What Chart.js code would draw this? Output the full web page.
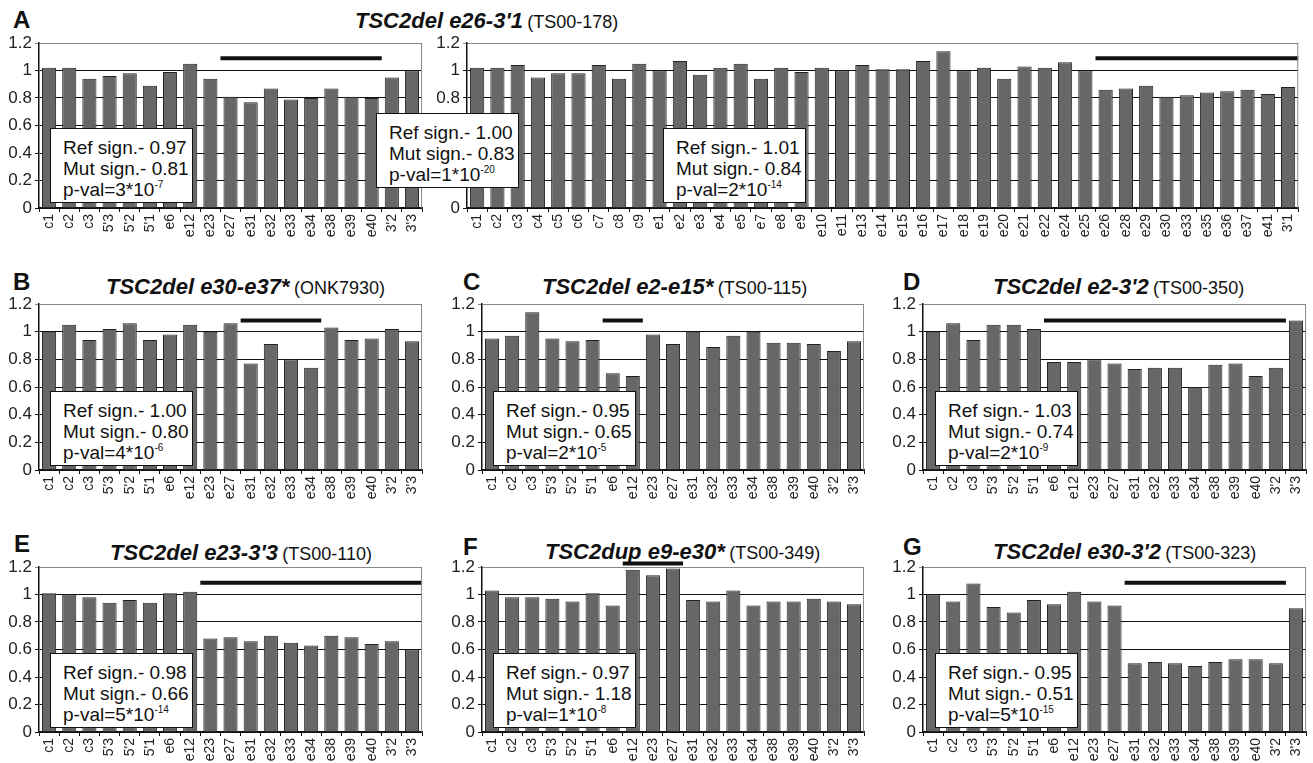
<!DOCTYPE html>
<html>
<head>
<meta charset="utf-8">
<script src="https://cdn.jsdelivr.net/npm/chart.js@4.4.0/dist/chart.umd.min.js"></script>
<style>
  html, body { margin: 0; padding: 0; background: #fff; }
  body { width: 1313px; height: 763px; position: relative; overflow: hidden;
         font-family: Arial, "Liberation Sans", sans-serif; color: #111; }
  canvas { position: absolute; }
  .lt { position: absolute; font-weight: bold; font-size: 24px; line-height: 1; transform: translateY(-50%); }
  .ttl { position: absolute; line-height: 1; white-space: nowrap; transform: translateY(-50%); }
  .ttl b { font-size: 22px; font-style: italic; }
  .ttl span { font-size: 18px; }
  .box { position: absolute; background: #fff; border: 1.5px solid #111; box-sizing: border-box;
         padding: 8px 0 0 12px; font-size: 19px; line-height: 21px; white-space: nowrap; }
  .box sup { font-size: 10px; vertical-align: 8px; line-height: 0; }
</style>
</head>
<body>

<div class="lt" style="left:13px;top:20px">A</div>
<div class="ttl" style="left:355px;top:21px"><b>TSC2del e26-3'1</b> <span>(TS00-178)</span></div>
<div class="lt" style="left:13px;top:282px">B</div>
<div class="ttl" style="left:106px;top:287px"><b>TSC2del e30-e37*</b> <span>(ONK7930)</span></div>
<div class="lt" style="left:463px;top:282px">C</div>
<div class="ttl" style="left:542px;top:287px"><b>TSC2del e2-e15*</b> <span>(TS00-115)</span></div>
<div class="lt" style="left:903px;top:282px">D</div>
<div class="ttl" style="left:993px;top:287px"><b>TSC2del e2-3'2</b> <span>(TS00-350)</span></div>
<div class="lt" style="left:14px;top:544px">E</div>
<div class="ttl" style="left:110px;top:553px"><b>TSC2del e23-3'3</b> <span>(TS00-110)</span></div>
<div class="lt" style="left:463px;top:547px">F</div>
<div class="ttl" style="left:545px;top:552px"><b>TSC2dup e9-e30*</b> <span>(TS00-349)</span></div>
<div class="lt" style="left:903px;top:547px">G</div>
<div class="ttl" style="left:993px;top:552px"><b>TSC2del e30-3'2</b> <span>(TS00-323)</span></div>

<canvas id="cA1"></canvas>
<canvas id="cA2"></canvas>
<canvas id="cB"></canvas>
<canvas id="cC"></canvas>
<canvas id="cD"></canvas>
<canvas id="cE"></canvas>
<canvas id="cF"></canvas>
<canvas id="cG"></canvas>

<script>
// probe sets shared by the small panels
const probes = ['c1', 'c2', 'c3', "5'3", "5'2", "5'1", 'e6', 'e12', 'e23', 'e27',
                'e31', 'e32', 'e33', 'e34', 'e38', 'e39', 'e40', "3'2", "3'3"];
const probesA2 = ['c1', 'c2', 'c3', 'c4', 'c5', 'c6', 'c7', 'c8', 'c9', 'e1', 'e2', 'e3', 'e4', 'e5',
                  'e7', 'e8', 'e9', 'e10', 'e11', 'e13', 'e14', 'e15', 'e16', 'e17', 'e18', 'e19',
                  'e20', 'e21', 'e22', 'e24', 'e25', 'e26', 'e28', 'e29', 'e30', 'e33', 'e35',
                  'e36', 'e37', 'e41', "3'1"];

const valsA1 = [1.02, 1.02, 0.94, 0.96, 0.98, 0.89, 0.99, 1.05, 0.94, 0.81,
                0.77, 0.87, 0.79, 0.80, 0.87, 0.81, 0.80, 0.95, 1.00];
const valsA2 = [1.02, 1.02, 1.04, 0.95, 0.98, 0.98, 1.04, 0.94, 1.05, 1.00, 1.07, 0.97, 1.02, 1.05,
                0.94, 1.02, 0.99, 1.02, 1.00, 1.04, 1.01, 1.01, 1.07, 1.14, 1.00, 1.02,
                0.94, 1.03, 1.02, 1.06, 1.00, 0.86, 0.87, 0.89, 0.81, 0.82, 0.84,
                0.85, 0.86, 0.83, 0.88];
const valsB = [1.00, 1.05, 0.94, 1.02, 1.06, 0.94, 0.98, 1.05, 1.00, 1.06,
               0.77, 0.91, 0.80, 0.74, 1.03, 0.94, 0.95, 1.02, 0.93];
const valsC = [0.95, 0.97, 1.14, 0.95, 0.93, 0.94, 0.70, 0.68, 0.98, 0.91,
               1.00, 0.89, 0.97, 1.00, 0.92, 0.92, 0.91, 0.86, 0.93];
const valsD = [1.00, 1.06, 0.94, 1.05, 1.05, 1.02, 0.78, 0.78, 0.80, 0.77,
               0.73, 0.74, 0.74, 0.60, 0.76, 0.77, 0.68, 0.74, 1.08];
const valsE = [1.01, 1.00, 0.98, 0.94, 0.96, 0.94, 1.01, 1.02, 0.68, 0.69,
               0.66, 0.70, 0.65, 0.63, 0.70, 0.69, 0.64, 0.66, 0.60];
const valsF = [1.03, 0.98, 0.98, 0.97, 0.95, 1.01, 0.92, 1.18, 1.14, 1.19,
               0.96, 0.95, 1.03, 0.92, 0.95, 0.95, 0.97, 0.95, 0.93];
const valsG = [1.00, 0.95, 1.08, 0.91, 0.87, 0.96, 0.93, 1.02, 0.95, 0.92,
               0.50, 0.51, 0.50, 0.48, 0.51, 0.53, 0.53, 0.50, 0.90];

// affected region bar: first probe, last probe, level
const spanA1 = ['e27', 'e40', 1.09];
const spanA2 = ['e26', "3'1", 1.09];
const spanB = ['e31', 'e34', 1.08];
const spanC = ['e6', 'e12', 1.08];
const spanD = ['e6', "3'2", 1.08];
const spanE = ['e23', "3'3", 1.086];
const spanF = ['e12', 'e27', 1.226];
const spanG = ['e31', "3'2", 1.086];

// signal summary boxes: ref, mut, p-value mantissa, exponent
const boxRef = ['0.97', '1.00', '1.01', '1.00', '0.95', '1.03', '0.98', '0.97', '0.95'];
const boxMut = ['0.81', '0.83', '0.84', '0.80', '0.65', '0.74', '0.66', '1.18', '0.51'];
const boxP = ['3', '1', '2', '4', '2', '2', '5', '1', '5'];
const boxExp = ['-7', '-20', '-14', '-6', '-5', '-9', '-14', '-8', '-15'];

const yTicks = [0, 0.2, 0.4, 0.6, 0.8, 1, 1.2];

const FONT = 'Arial, "Liberation Sans", sans-serif';

const spanBar = {
  id: 'spanBar',
  afterDatasetsDraw(chart, args, opts) {
    if (!opts.range) return;
    const x = chart.scales.x, y = chart.scales.y, ctx = chart.ctx;
    const labels = chart.data.labels;
    const i0 = labels.indexOf(opts.range[0]), i1 = labels.indexOf(opts.range[1]);
    const half = (x.getPixelForValue(1) - x.getPixelForValue(0)) / 2;
    const py = y.getPixelForValue(opts.range[2]);
    ctx.save();
    ctx.strokeStyle = '#111';
    ctx.lineWidth = 4;
    ctx.beginPath();
    ctx.moveTo(x.getPixelForValue(i0) - half, py);
    ctx.lineTo(x.getPixelForValue(i1) + half, py);
    ctx.stroke();
    // right frame line
    const a = chart.chartArea;
    ctx.strokeStyle = '#888';
    ctx.lineWidth = 1;
    ctx.beginPath();
    ctx.moveTo(a.right - 0.5, a.top);
    ctx.lineTo(a.right - 0.5, a.bottom);
    ctx.stroke();
    ctx.restore();
  }
};

function panel(id, rect, labels, values, range) {
  const yW = 39, xH = 58, padT = 20, padR = 8;
  const cv = document.getElementById(id);
  const [L, T, R, B] = rect;
  cv.width = R - L + yW + padR;
  cv.height = B - T + padT + xH;
  cv.style.left = (L - yW) + 'px';
  cv.style.top = (T - padT) + 'px';
  new Chart(cv, {
    type: 'bar',
    data: {
      labels: labels,
      datasets: [{
        data: values,
        backgroundColor: '#676767',
        borderColor: '#222',
        borderWidth: 1,
        borderSkipped: 'start',
        barPercentage: 0.7,
        categoryPercentage: 1.0
      }]
    },
    options: {
      responsive: false,
      animation: false,
      layout: { padding: { top: padT, right: padR, left: 0, bottom: 0 } },
      plugins: {
        legend: { display: false },
        tooltip: { enabled: false },
        spanBar: { range: range }
      },
      scales: {
        x: {
          grid: { offset: true, drawOnChartArea: false, drawTicks: true, tickLength: 4, color: '#111' },
          border: { color: '#111', width: 1.5 },
          ticks: {
            autoSkip: false, maxRotation: 90, minRotation: 90, padding: 2,
            color: '#222', font: { family: FONT, size: 14 }
          },
          afterFit: (s) => { s.height = xH; }
        },
        y: {
          min: 0, max: 1.2,
          afterBuildTicks: (s) => { s.ticks = yTicks.map(v => ({ value: v })); },
          grid: {
            color: (c) => (c.tick && c.tick.value > 1.1 ? '#888' : '#111'),
            lineWidth: 1, drawTicks: true, tickLength: 4
          },
          border: { color: '#111', width: 1.5 },
          ticks: {
            padding: 3, color: '#222', font: { family: FONT, size: 17 },
            callback: (v) => String(Math.round(v * 10) / 10)
          },
          afterFit: (s) => { s.width = yW; }
        }
      }
    },
    plugins: [spanBar]
  });
}

panel('cA1', [39, 43, 423, 208], probes, valsA1, spanA1);
panel('cA2', [467, 43, 1299, 208], probesA2, valsA2, spanA2);
panel('cB', [39, 304, 423, 470], probes, valsB, spanB);
panel('cC', [482, 304, 865, 470], probes, valsC, spanC);
panel('cD', [923, 304, 1307, 470], probes, valsD, spanD);
panel('cE', [39, 567, 423, 732], probes, valsE, spanE);
panel('cF', [482, 567, 865, 732], probes, valsF, spanF);
panel('cG', [923, 567, 1307, 732], probes, valsG, spanG);

// summary boxes
const boxPos = [[50, 128], [376, 113], [663, 128], [50, 391], [493, 391], [935, 391],
                [50, 653], [493, 653], [935, 653]];
boxPos.forEach((p, i) => {
  const d = document.createElement('div');
  d.className = 'box';
  d.style.left = p[0] + 'px';
  d.style.top = p[1] + 'px';
  d.style.width = '143px';
  d.style.height = '75px';
  d.innerHTML = 'Ref sign.- ' + boxRef[i] + '<br>Mut sign.- ' + boxMut[i] +
    '<br>p-val=' + boxP[i] + '*10<sup>' + boxExp[i] + '</sup>';
  document.body.appendChild(d);
});
</script>
</body>
</html>
